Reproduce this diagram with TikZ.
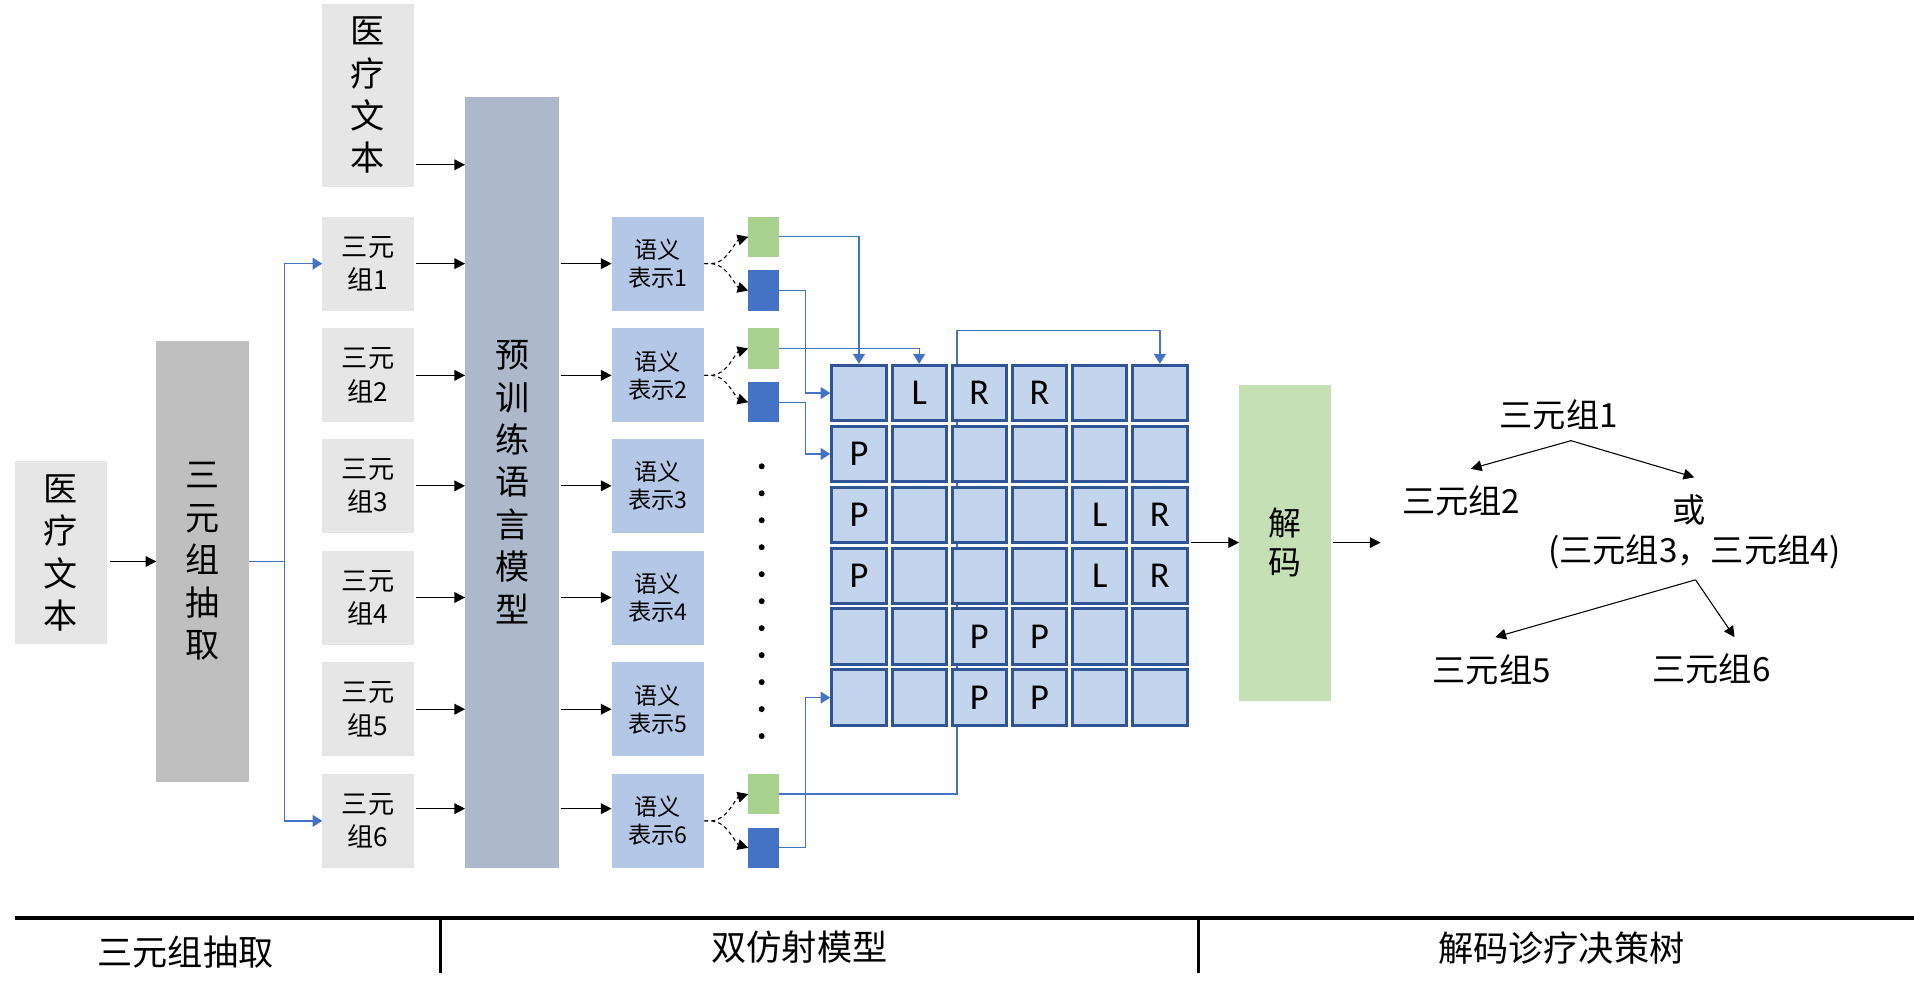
\documentclass[tikz,border=0pt]{standalone}
\usepackage{fontspec}
\setmainfont{Noto Sans CJK SC}
\newfontfamily\latf{Carlito}
\usetikzlibrary{arrows.meta,backgrounds,calc}
\definecolor{boxgray}{RGB}{231,230,230}
\definecolor{extgray}{RGB}{191,191,191}
\definecolor{plmblue}{RGB}{173,185,202}
\definecolor{semblue}{RGB}{180,199,231}
\definecolor{smgreen}{RGB}{169,209,142}
\definecolor{smblue}{RGB}{68,114,196}
\definecolor{cellfill}{RGB}{194,213,236}
\definecolor{cellline}{RGB}{47,85,151}
\definecolor{decgreen}{RGB}{197,224,180}
\definecolor{linkblue}{RGB}{68,114,196}
\tikzset{
  base/.style={inner sep=0pt, outer sep=0pt, align=center},
  bigtxt/.style={font=\fontsize{15.9}{19.8}\selectfont},
  tallbox/.style={base, bigtxt, minimum width=1.52cm},
  tribox/.style={base, fill=boxgray, minimum width=1.5cm, minimum height=1.54cm, font=\fontsize{12.2}{15.5}\selectfont},
  sembox/.style={base, fill=semblue, minimum width=1.52cm, minimum height=1.54cm, font=\fontsize{10.8}{13}\selectfont},
  gsq/.style={base, fill=smgreen, minimum width=0.5cm, minimum height=0.66cm},
  bsq/.style={base, fill=smblue, minimum width=0.5cm, minimum height=0.66cm},
  cell/.style={draw=cellline, fill=cellfill, line width=1.4pt, inner sep=0pt, minimum width=0.89cm, minimum height=0.91cm},
  lettr/.style={inner sep=0pt, font=\latf\fontsize{17}{17}\selectfont},
  treetxt/.style={inner sep=0pt, font=\fontsize{15.5}{18}\selectfont},
  foot/.style={inner sep=0pt, font=\fontsize{16.4}{18}\selectfont},
  arr/.style={-{Triangle[length=5pt,width=5pt]}, line width=0.6pt, shorten <=1pt},
  tarr/.style={-{Triangle[length=5pt,width=5pt]}, line width=0.5pt},
  blarr/.style={-{Triangle[length=4.5pt,width=5.5pt]}, draw=linkblue, line width=0.6pt},
  blline/.style={draw=linkblue, line width=0.6pt},
  dsh/.style={-{Triangle[length=5pt,width=5pt]}, line width=0.5pt, dash pattern=on 1.8pt off 1.5pt},
}
\begin{document}
\begin{tikzpicture}[x=0.02cm,y=-0.02cm]
\useasboundingbox (0,0) rectangle (1568,814);

% left part
\node[tallbox, fill=boxgray, minimum height=3cm] (med1) at (50,453) {医\\疗\\文\\本};
\node[tallbox, fill=extgray, minimum height=7.24cm] (extract) at (166,460) {三\\元\\组\\抽\\取};
\node[tallbox, fill=boxgray, minimum width=1.5cm, minimum height=3cm] (med2) at (301.5,78) {医\\疗\\文\\本};
\node[tallbox, fill=plmblue, minimum width=1.54cm, minimum height=12.64cm] (plm) at (419.5,395) {预\\训\\练\\语\\言\\模\\型};

\foreach \i/\y in {1/216,2/307.5,3/398,4/489.5,5/581,6/672.5}{
  \node[tribox] (tri\i) at (301.5,\y) {三元\\组\i};
  \node[sembox] (sem\i) at (539,\y) {语义\\表示\i};
}
\foreach \i/\y in {1/216,2/307.5,6/672.5}{
  \node[gsq] (g\i) at (625.5,{\y-22}) {};
  \node[bsq] (b\i) at (625.5,{\y+22}) {};
}

\draw[arr] (med1.east |- extract.west) -- (extract.west);
\coordinate (forkm) at (233,460);
\draw[blline] (extract.east) -- (forkm);
\draw[blarr] (forkm) |- (tri1.west);
\draw[blarr] (forkm) |- (tri6.west);

\draw[arr] (med2.east |- 0,135) -- (plm.west |- 0,135);
\foreach \i in {1,...,5}{
  \draw[arr] (tri\i.east) -- (plm.west |- tri\i.east);
  \draw[arr] (plm.east |- sem\i.west) -- (sem\i.west);
}
\draw[arr] ([yshift=5.7pt]tri6.east) -- ([yshift=5.7pt]plm.west |- tri6.east);
\draw[arr] ([yshift=5.7pt]plm.east |- sem6.west) -- ([yshift=5.7pt]sem6.west);

\foreach \i in {1,2,6}{
  \draw[dsh] (sem\i.east) -- ++(6,0) .. controls +(12,0) and +(-10,3) .. (g\i.west);
  \draw[dsh] (sem\i.east) -- ++(6,0) .. controls +(12,0) and +(-10,-3) .. (b\i.west);
}

\foreach \k in {0,...,10}{
  \fill (624,{382+22.1*\k}) circle[radius=1.4pt];
}

% grid
\foreach \r in {1,...,6}{
  \foreach \c in {1,...,6}{
    \node[cell] (c\r\c) at ({703.7+49.3*(\c-1)},{322+49.9*(\r-1)}) {};
  }
}
\foreach \r/\c/\t in {1/2/L,1/3/R,1/4/R,2/1/P,3/1/P,3/5/L,3/6/R,4/1/P,4/5/L,4/6/R,5/3/P,5/4/P,6/3/P,6/4/P}{
  \node[lettr] (l\r\c) at (c\r\c) {\t};
}

\coordinate (vx) at (660,0);
\coordinate (loop) at (784,271);
\begin{scope}[on background layer]
  \draw[blarr] (g6.east) -| (loop) -| (c16.north);
\end{scope}
\draw[blarr] (g1.east) -| (c11.north);
\draw[blarr] (g2.east) -| (c12.north);
\draw[blarr] (b1.east) -| (vx |- c11.west) -- (c11.west);
\draw[blarr] (b2.east) -| (vx |- c21.west) -- (c21.west);
\draw[blarr] (b6.east) -| (vx |- c61.west) -- (c61.west);

% decode
\node[base, fill=decgreen, minimum width=1.5cm, minimum height=5.18cm, font=\fontsize{15.3}{18}\selectfont] (decode) at (1052.5,444.5) {解\\码};
\draw[arr] (c36.east |- decode.west) -- (decode.west);
\coordinate (dend) at (1131,444.5);
\draw[arr] (decode.east) -- (dend);

% tree
\node[treetxt] (t1) at (1277,340) {三元组1};
\node[treetxt] (t2) at (1197,410) {三元组2};
\node[treetxt] (tor) at (1384,418) {或};
\node[treetxt] (t34) at (1388,452) {(三元组3，三元组4)};
\node[treetxt] (t5) at (1222,549) {三元组5};
\node[treetxt] (t6) at (1402,548) {三元组6};
\coordinate (ap1) at (1287,361);
\coordinate (e2) at (1205,384);
\coordinate (e3) at (1388,391);
\coordinate (ap2) at (1389,475);
\coordinate (e5) at (1225,522);
\coordinate (e6) at (1421,522);
\draw[tarr] (ap1) -- (e2);
\draw[tarr] (ap1) -- (e3);
\draw[tarr] (ap2) -- (e5);
\draw[tarr] (ap2) -- (e6);

% footer
\coordinate (fl) at (12,752);
\coordinate (fr) at (1568,752);
\coordinate (s1t) at (361,752);
\coordinate (s1b) at (361,797);
\coordinate (s2t) at (982,752);
\coordinate (s2b) at (982,797);
\draw[line width=1.7pt] (fl) -- (fr);
\draw[line width=1.2pt] (s1t) -- (s1b);
\draw[line width=1.2pt] (s2t) -- (s2b);
\node[foot] (f1) at (152,780) {三元组抽取};
\node[foot] (f2) at (655,776) {双仿射模型};
\node[foot] (f3) at (1279,777) {解码诊疗决策树};
\end{tikzpicture}
\end{document}
